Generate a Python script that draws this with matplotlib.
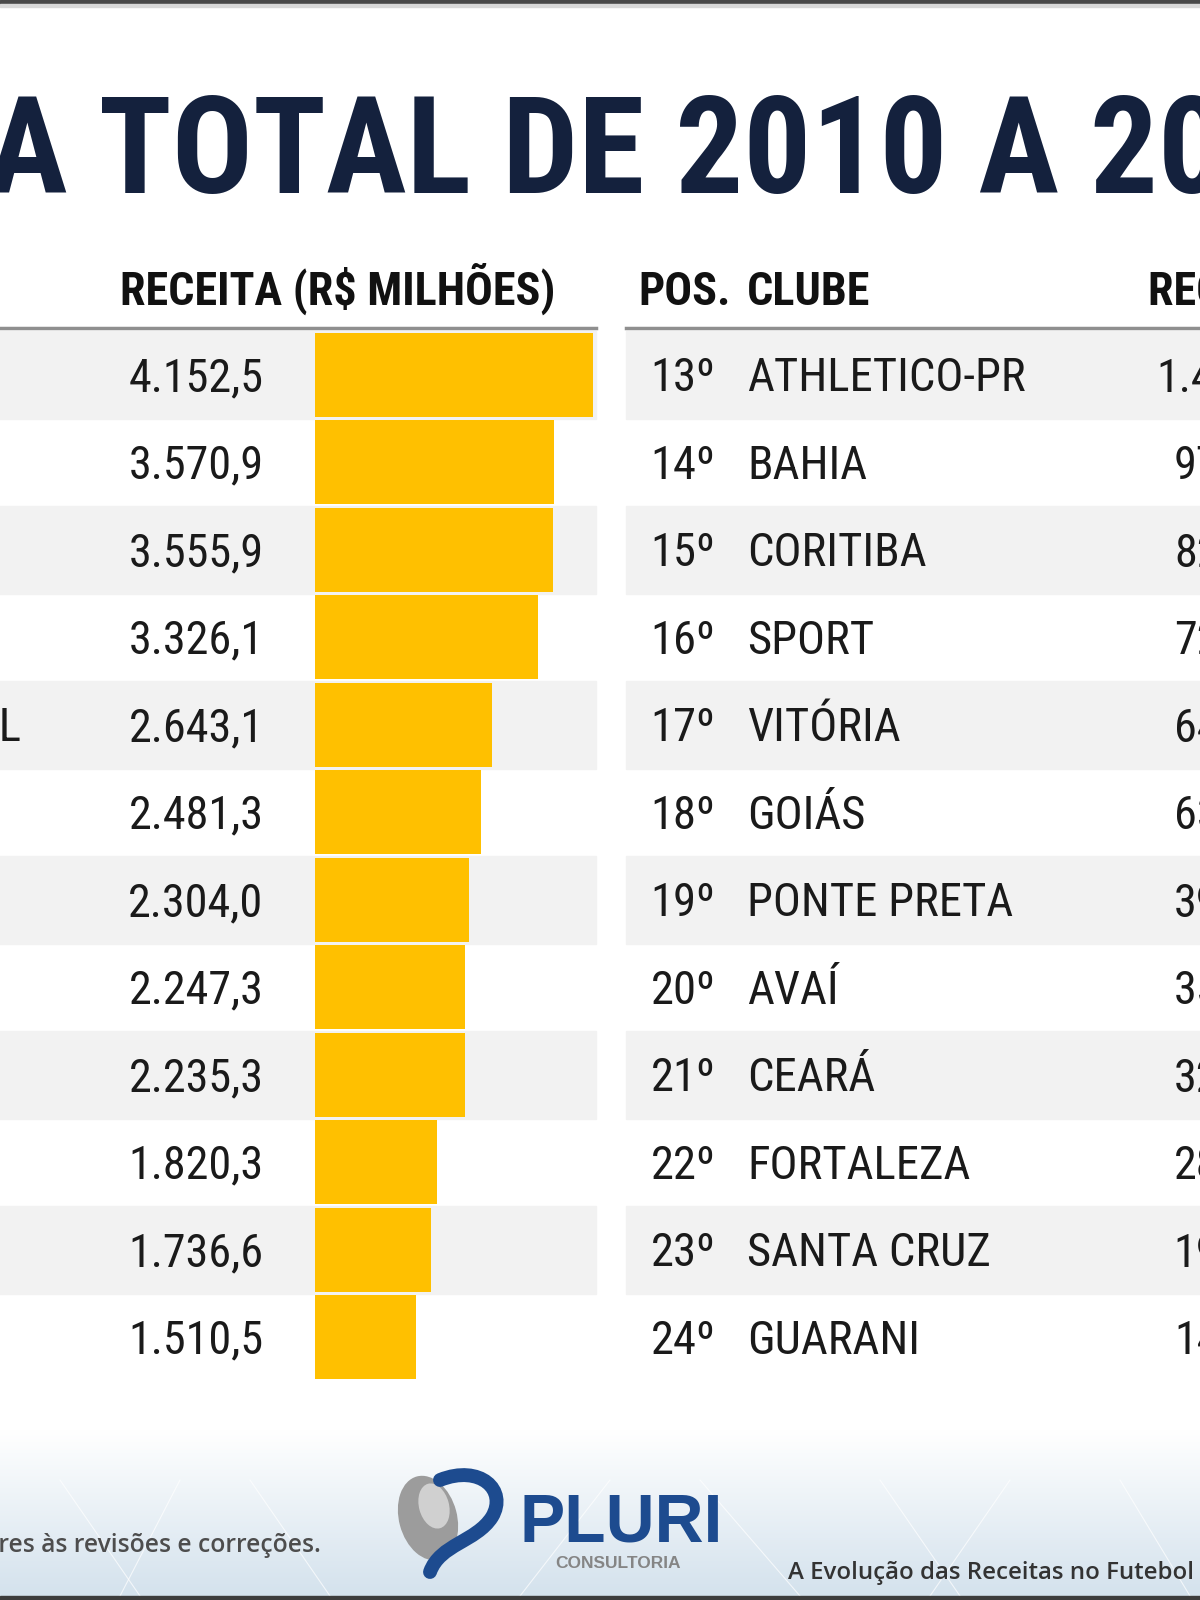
import numpy as np
import matplotlib.pyplot as plt
from matplotlib import font_manager as fm
from matplotlib.patches import Rectangle, Ellipse, PathPatch
from matplotlib.path import Path
from matplotlib.colors import LinearSegmentedColormap

# Dados: receita total 2010-2019 (R$ milhões)
pos_esq = list(range(1, 13))
clubes_esq = ["FLAMENGO", "CORINTHIANS", "PALMEIRAS", "SÃO PAULO", "INTERNACIONAL", "GRÊMIO",
              "CRUZEIRO", "ATLÉTICO-MG", "SANTOS", "FLUMINENSE", "VASCO", "BOTAFOGO"]
receita_esq = [4152.5, 3570.9, 3555.9, 3326.1, 2643.1, 2481.3,
               2304.0, 2247.3, 2235.3, 1820.3, 1736.6, 1510.5]

pos_dir = list(range(13, 25))
clubes_dir = ["ATHLETICO-PR", "BAHIA", "CORITIBA", "SPORT", "VITÓRIA", "GOIÁS",
              "PONTE PRETA", "AVAÍ", "CEARÁ", "FORTALEZA", "SANTA CRUZ", "GUARANI"]
receita_dir = [1462.1, 971.2, 823.4, 725.9, 641.8, 632.5,
               394.7, 355.3, 322.6, 281.4, 196.0, 148.7]

titulo = "RECEITA TOTAL DE 2010 A 2019"
cab_receita = "RECEITA (R$ MILHÕES)"
nota = "*Valores sujeitos a alterações posteriores às revisões e correções."
rodape = "A Evolução das Receitas no Futebol"

# Procura uma fonte estreita (parecida com DIN Condensed)
fontes = fm.fontManager.ttflist
nomes = {f.name for f in fontes}
fonte, estica = None, "normal"
for nome in ["Liberation Sans Narrow", "Roboto Condensed", "DejaVu Sans Condensed",
             "Noto Sans Condensed", "Open Sans Condensed", "Arial Narrow"]:
    if nome in nomes:
        fonte = nome
        break
if fonte is None:
    for alvo in ["condensed", "extra-condensed", "semi-condensed"]:
        for f in fontes:
            if f.name in ("Roboto", "Noto Sans", "DejaVu Sans", "Open Sans", "Inter", "Lato") \
                    and str(f.stretch) == alvo:
                fonte, estica = f.name, alvo
                break
        if fonte:
            break
if fonte is None:
    fonte = "Roboto" if "Roboto" in nomes else "Liberation Sans"

plt.rcParams['font.family'] = [fonte, 'DejaVu Sans']
plt.rcParams['font.stretch'] = estica


def fmt(v):
    s = f"{v:,.1f}"
    return s.replace(",", "X").replace(".", ",").replace("X", ".")


fig = plt.figure(figsize=(12, 16), dpi=100)
fig.patch.set_facecolor("white")
ax = fig.add_axes([0, 0, 1, 1])
ax.axis("off")
renderer = fig.canvas.get_renderer()


def largura(txt, size, **kw):
    t = ax.text(0, 0, txt, fontsize=size, **kw)
    w = t.get_window_extent(renderer).width
    t.remove()
    return w


def ajusta(txt, alvo, **kw):
    return 100 * alvo / largura(txt, 100, **kw)


def cap(size):
    return 0.71 * size * 100 / 72


# fundo do rodapé (degradê azul claro)
grad = np.linspace(0, 1, 200).reshape(-1, 1)
cmap_rod = LinearSegmentedColormap.from_list("rod", ["#ffffff", "#d4e2ed"])
ax.imshow(grad, extent=[0, 1200, 1596, 1430], aspect="auto", cmap=cmap_rod, zorder=0)
for x0, x1 in [(60, 140), (180, 120), (250, 330), (610, 520), (700, 800), (880, 960), (1010, 930), (1120, 1190)]:
    ax.plot([x0, x1], [1480, 1596], color="white", lw=0.8, alpha=0.7, zorder=0)
ax.set_xlim(0, 1200)
ax.set_ylim(1600, 0)

# bordas
ax.add_patch(Rectangle((0, 0), 1200, 4, color="#4a4a4a", zorder=1))
ax.add_patch(Rectangle((0, 4), 1200, 3, color="#d9d9d9", zorder=1))
ax.add_patch(Rectangle((0, 1596), 1200, 4, color="#3c3c3c", zorder=1))

# título
tam_tit = ajusta("TOTAL DE 2010 A", 960, weight="bold")
desloc = largura("RECEITA T", tam_tit, weight="bold") - largura("T", tam_tit, weight="bold")
ax.text(99 - desloc, 193, titulo, fontsize=tam_tit, weight="bold", color="#14213d",
        ha="left", va="baseline")

# tabelas
topo = 331
passo = 87.5
tam_cab = ajusta(cab_receita, 435, weight="bold")
tam_lin = ajusta("ATHLETICO-PR", 278)
tam_val = ajusta("4.152,5", 135)
vmax = max(receita_esq)

for x0, xc, pos, clubes, receita in [(0, -292, pos_esq, clubes_esq, receita_esq),
                                     (1028, 747, pos_dir, clubes_dir, receita_dir)]:
    # cabeçalho
    ax.text(x0 - 390, 305, "POS.", fontsize=tam_cab, weight="bold", color="#111111", va="baseline")
    ax.text(x0 - 281, 305, "CLUBE", fontsize=tam_cab, weight="bold", color="#111111", va="baseline")
    ax.text(x0 + 120, 305, cab_receita, fontsize=tam_cab, weight="bold", color="#111111", va="baseline")
    ax.plot([x0 - 402, x0 + 596], [328, 328], color="#8f8f8f", lw=2.5, zorder=2)

    for i, (p, c, v) in enumerate(zip(pos, clubes, receita)):
        centro = topo + passo * (i + 0.5)
        if i % 2 == 0:
            ax.add_patch(Rectangle((x0 - 402, topo + passo * i), 998, passo,
                                   color="#f2f2f2", zorder=1))
        ax.text(x0 - 345, centro + cap(tam_lin) / 2, f"{p}º", fontsize=tam_lin,
                color="#1a1a1a", ha="center", va="baseline", zorder=3)
        ax.text(xc, centro + cap(tam_lin) / 2, c, fontsize=tam_lin,
                color="#1a1a1a", ha="left", va="baseline", zorder=3)
        ax.text(x0 + 196, centro + cap(tam_val) / 2, fmt(v), fontsize=tam_val,
                color="#1a1a1a", ha="center", va="baseline", zorder=3)

    # barras
    bx = fig.add_axes([(x0 + 315) / 1200, 1 - (topo + 12 * passo) / 1600,
                       278 / 1200, 12 * passo / 1600])
    bx.barh(np.arange(len(receita)), receita, height=84 / passo, color="#FFC000")
    bx.set_xlim(0, vmax)
    bx.set_ylim(len(receita) - 0.5, -0.5)
    bx.axis("off")
    bx.patch.set_alpha(0)

# rodapé
fam = ["Open Sans", "DejaVu Sans"]
tam_nota = ajusta("res às revisões e correções.", 322, family=fam, weight="semibold", stretch="normal")
ax.text(321, 1546, nota, fontsize=tam_nota, family=fam, weight="semibold", stretch="normal",
        color="#4d4d4d", ha="right", va="center", zorder=3)
tam_rod = ajusta(rodape, 406, family=fam, weight="semibold", stretch="normal")
ax.text(788, 1573, rodape, fontsize=tam_rod, family=fam, weight="semibold", stretch="normal",
        color="#333333", ha="left", va="center", zorder=3)

# logo PLURI
fam_logo = ["Liberation Sans", "DejaVu Sans"]
tam_logo = ajusta("PLURI", 203, family=fam_logo, weight="bold", stretch="normal")
ax.text(520, 1542, "PLURI", fontsize=tam_logo, family=fam_logo, weight="bold", stretch="normal",
        color="#1d4b8f", ha="left", va="baseline", zorder=3)
ax.text(618, 1564, "CONSULTORIA", fontsize=12.5, family=fam_logo, weight="bold", stretch="normal",
        color="#858585", ha="center", va="center", zorder=3)
ax.add_patch(Ellipse((428, 1518), 58, 86, angle=-15, facecolor="#9c9c9c", edgecolor="none", zorder=3))
ax.add_patch(Ellipse((434, 1506), 30, 46, angle=-15, facecolor="#d0d0d0", edgecolor="none", zorder=3))
verts = [(440, 1480), (480, 1464), (508, 1490), (492, 1517),
         (476, 1542), (440, 1544), (430, 1572)]
codes = [Path.MOVETO, Path.CURVE4, Path.CURVE4, Path.CURVE4, Path.CURVE4, Path.CURVE4, Path.CURVE4]
ax.add_patch(PathPatch(Path(verts, codes), facecolor="none", edgecolor="#1d4b8f",
                       lw=10, capstyle="round", zorder=4))

fig.savefig("out.png", dpi=100)
